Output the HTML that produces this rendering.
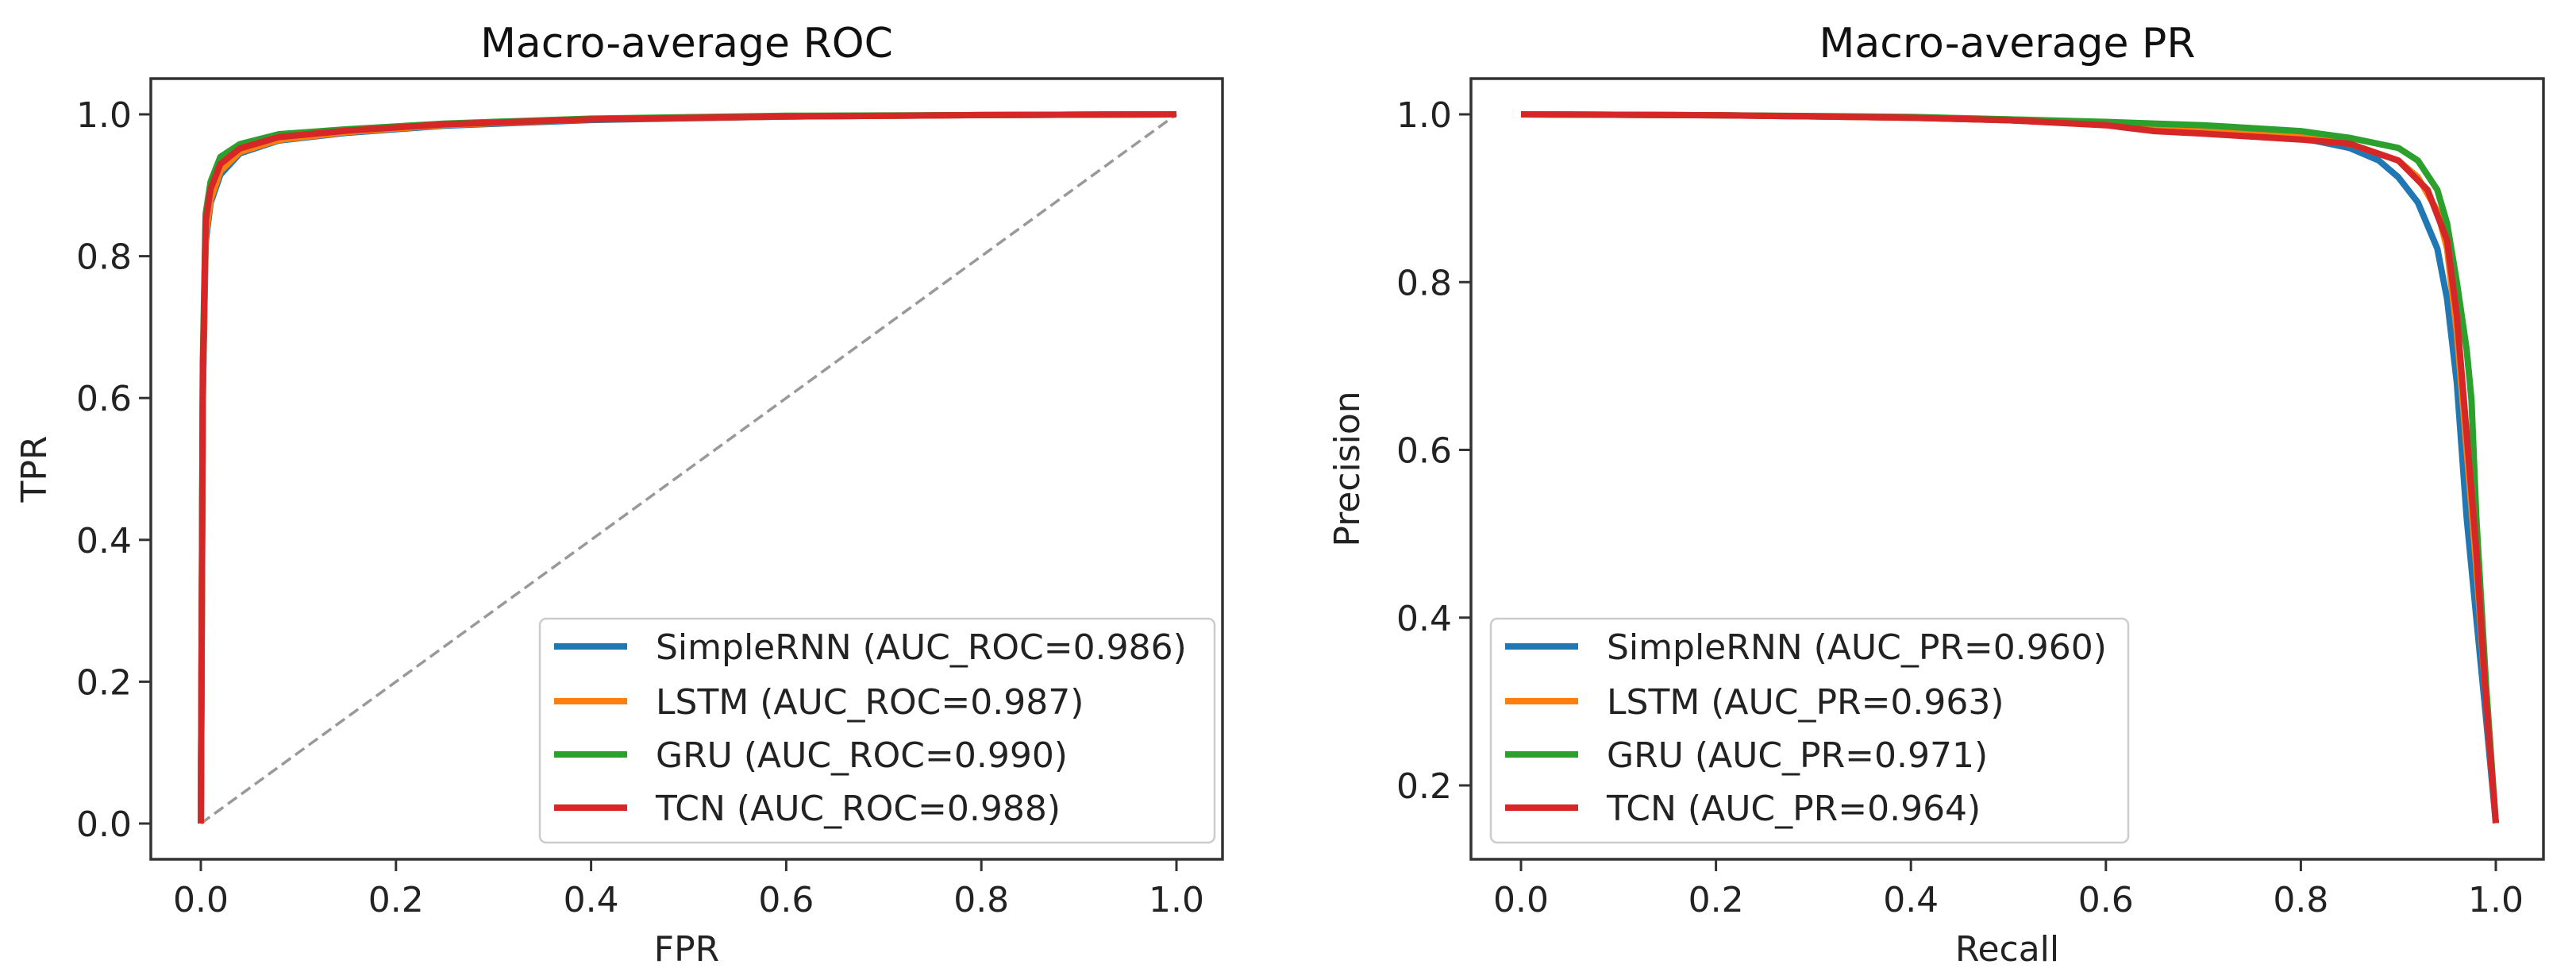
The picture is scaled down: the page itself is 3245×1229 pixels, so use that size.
<!DOCTYPE html>
<html><head><meta charset="utf-8">
<style>
html,body{margin:0;padding:0;background:#fff;}
svg{display:block;font-family:"DejaVu Sans","Liberation Sans",sans-serif;}
</style></head>
<body>
<svg id="fig" width="3245" height="1229" viewBox="0 0 3245 1229" xmlns="http://www.w3.org/2000/svg"></svg>
<script>
// ---- data ----
const seriesNames = ["SimpleRNN","LSTM","GRU","TCN"];
const seriesColors = ["#1f77b4","#ff7f0e","#2ca02c","#d62728"];
const rocAuc = ["0.986","0.987","0.990","0.988"];
const prAuc = ["0.960","0.963","0.971","0.964"];
const xTicks = [0.0,0.2,0.4,0.6,0.8,1.0];
const rocYTicks = [0.0,0.2,0.4,0.6,0.8,1.0];
const prYTicks = [0.2,0.4,0.6,0.8,1.0];

const rocFprRnn = [0,0.002,0.005,0.01,0.02,0.04,0.08,0.15,0.25,0.4,0.6,0.8,1];
const rocTprRnn = [0,0.6,0.82,0.875,0.915,0.945,0.963,0.974,0.984,0.992,0.997,0.999,1];
const rocFprLstm = [0,0.002,0.005,0.01,0.02,0.04,0.08,0.15,0.25,0.4,0.6,0.8,1];
const rocTprLstm = [0,0.62,0.83,0.88,0.92,0.947,0.964,0.975,0.985,0.993,0.997,0.999,1];
const rocFprGru = [0,0.002,0.005,0.01,0.02,0.04,0.08,0.15,0.25,0.4,0.6,0.8,1];
const rocTprGru = [0,0.65,0.86,0.905,0.94,0.958,0.972,0.979,0.987,0.994,0.998,0.999,1];
const rocFprTcn = [0,0.002,0.005,0.01,0.02,0.04,0.08,0.15,0.25,0.4,0.6,0.8,1];
const rocTprTcn = [0,0.63,0.85,0.895,0.93,0.952,0.968,0.977,0.986,0.993,0.997,0.999,1];

const prRecRnn = [0,0.2,0.4,0.5,0.6,0.7,0.8,0.85,0.88,0.9,0.92,0.94,0.95,0.96,0.97,0.98,0.99,1];
const prPrecRnn = [1,0.999,0.996,0.993,0.988,0.982,0.972,0.96,0.945,0.925,0.895,0.84,0.78,0.68,0.52,0.4,0.28,0.155];
const prRecLstm = [0,0.2,0.4,0.5,0.6,0.7,0.8,0.85,0.9,0.92,0.94,0.95,0.96,0.97,0.98,0.99,1];
const prPrecLstm = [1,0.999,0.996,0.993,0.989,0.984,0.975,0.965,0.945,0.925,0.885,0.84,0.74,0.6,0.46,0.3,0.155];
const prRecGru = [0,0.2,0.4,0.5,0.6,0.7,0.8,0.85,0.9,0.92,0.94,0.95,0.96,0.97,0.975,0.98,0.99,1];
const prPrecGru = [1,0.999,0.997,0.994,0.991,0.987,0.98,0.972,0.96,0.945,0.91,0.87,0.8,0.72,0.66,0.52,0.32,0.155];
const prRecTcn = [0,0.2,0.4,0.5,0.6,0.65,0.7,0.8,0.85,0.9,0.93,0.95,0.96,0.97,0.98,0.99,1];
const prPrecTcn = [1,0.999,0.996,0.993,0.987,0.98,0.977,0.97,0.965,0.945,0.91,0.85,0.76,0.62,0.48,0.3,0.155];

// ---- helpers ----
const NS="http://www.w3.org/2000/svg";
const svg=document.getElementById('fig');
function mk(tag,attrs,parent){const e=document.createElementNS(NS,tag);for(const k in attrs)e.setAttribute(k,attrs[k]);(parent||svg).appendChild(e);return e;}
function txt(s,attrs,parent){const e=mk('text',attrs,parent);e.textContent=s;return e;}

function drawPanel(cfg){
  const g=mk('g',{});
  
  
  const X=v=>cfg.x0+(cfg.x1-cfg.x0)*v;
  const Y=v=>cfg.yA+(v-cfg.vA)*(cfg.yB-cfg.yA)/(cfg.vB-cfg.vA);
  const t=txt(cfg.title,{x:(cfg.L+cfg.R)/2,y:72,'text-anchor':'middle','font-size':52,fill:'#111'},g);
  
  
  if(cfg.diag){
    const d=mk('line',{x1:X(0),y1:Y(0),x2:X(1),y2:Y(1),stroke:'#999','stroke-width':3.5,'stroke-dasharray':'14,7'},g);
    
    
  }
  cfg.series.forEach((s,i)=>{
    const pts=s.xs.map((v,j)=>X(v).toFixed(1)+','+Y(s.ys[j]).toFixed(1)).join(' ');
    const p=mk('polyline',{points:pts,fill:'none',stroke:seriesColors[i],'stroke-width':8,'stroke-linejoin':'round','stroke-linecap':'butt'},g);
    
    
  });
  const fr=mk('rect',{x:cfg.L,y:cfg.T,width:cfg.R-cfg.L,height:cfg.B-cfg.T,fill:'none',stroke:'#333','stroke-width':3.5},g);
  
  
  xTicks.forEach(v=>{
    mk('line',{x1:X(v),y1:cfg.B,x2:X(v),y2:cfg.B+15,stroke:'#333','stroke-width':3},g);
    const l=txt(v.toFixed(1),{x:X(v),y:1148,'text-anchor':'middle','font-size':44,fill:'#222'},g);
    
    
  });
  cfg.yTicks.forEach(v=>{
    mk('line',{x1:cfg.L-15,y1:Y(v),x2:cfg.L,y2:Y(v),stroke:'#333','stroke-width':3},g);
    const l=txt(v.toFixed(1),{x:cfg.L-24,y:Y(v)+16,'text-anchor':'end','font-size':44,fill:'#222'},g);
    
    
  });
  const xl=txt(cfg.xlabel,{x:(cfg.L+cfg.R)/2,y:1210,'text-anchor':'middle','font-size':44,fill:'#222'},g);
  
  
  const yl=txt(cfg.ylabel,{x:0,y:0,'text-anchor':'middle','font-size':44,fill:'#222',transform:'translate('+cfg.ylx+','+((cfg.T+cfg.B)/2)+') rotate(-90)'},g);
  
  
  const lg=mk('g',{},g);
  
  
  mk('rect',{x:cfg.lx,y:779,width:cfg.lw,height:282,rx:8,fill:'#fff','fill-opacity':0.85,stroke:'#ccc','stroke-width':2.5},lg);
  const rows=[814,883,950,1017];
  seriesNames.forEach((n,i)=>{
    const e=mk('g',{},lg);
    
    
    mk('line',{x1:cfg.lx+18,y1:rows[i],x2:cfg.lx+110,y2:rows[i],stroke:seriesColors[i],'stroke-width':8},e);
    txt(n+' ('+cfg.aucLabel+'='+cfg.auc[i]+')',{x:cfg.lx+146,y:rows[i]+16,'font-size':44,fill:'#222'},e);
  });
}

drawPanel({name:'roc-panel',title:'Macro-average ROC',xlabel:'FPR',ylabel:'TPR',ylx:58,
  L:190,R:1540,T:99,B:1082,x0:253,x1:1482,yA:1037,vA:0,yB:144,vB:1,
  yTicks:rocYTicks,diag:true,lx:680,lw:850,aucLabel:'AUC_ROC',auc:rocAuc,
  series:[{xs:rocFprRnn,ys:rocTprRnn},{xs:rocFprLstm,ys:rocTprLstm},{xs:rocFprGru,ys:rocTprGru},{xs:rocFprTcn,ys:rocTprTcn}]});

drawPanel({name:'pr-panel',title:'Macro-average PR',xlabel:'Recall',ylabel:'Precision',ylx:1712,
  L:1853,R:3204,T:99,B:1082,x0:1916,x1:3144,yA:989,vA:0.2,yB:144,vB:1,
  yTicks:prYTicks,diag:false,lx:1878,lw:803,aucLabel:'AUC_PR',auc:prAuc,
  series:[{xs:prRecRnn,ys:prPrecRnn},{xs:prRecLstm,ys:prPrecLstm},{xs:prRecGru,ys:prPrecGru},{xs:prRecTcn,ys:prPrecTcn}]});
</script>
</body></html>
